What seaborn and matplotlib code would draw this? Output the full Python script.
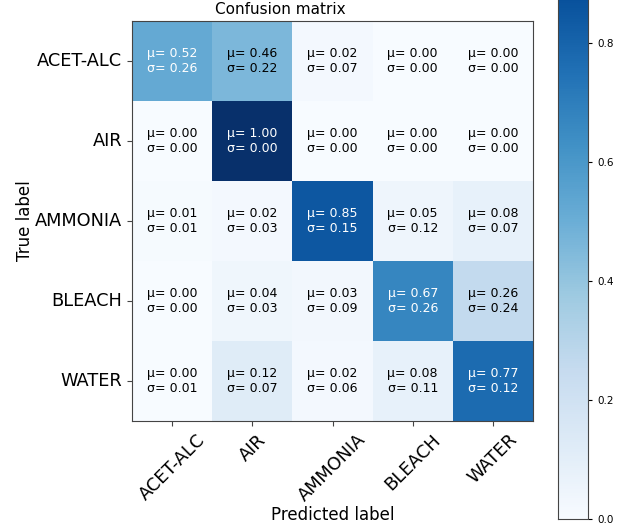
import matplotlib
matplotlib.use("Agg")
import matplotlib.pyplot as plt
import seaborn as sns
import numpy as np

classes = ["ACET-ALC", "AIR", "AMMONIA", "BLEACH", "WATER"]

# mean and std of the normalised confusion matrix (rows = true label)
cm_mean = [
    [0.52, 0.46, 0.02, 0.00, 0.00],
    [0.00, 1.00, 0.00, 0.00, 0.00],
    [0.01, 0.02, 0.85, 0.05, 0.08],
    [0.00, 0.04, 0.03, 0.67, 0.26],
    [0.00, 0.12, 0.02, 0.08, 0.77],
]
cm_std = [
    [0.26, 0.22, 0.07, 0.00, 0.00],
    [0.00, 0.00, 0.00, 0.00, 0.00],
    [0.01, 0.03, 0.15, 0.12, 0.07],
    [0.00, 0.03, 0.09, 0.26, 0.24],
    [0.01, 0.07, 0.06, 0.11, 0.12],
]
cbar_ticks = [0.0, 0.2, 0.4, 0.6, 0.8]

mean = np.array(cm_mean)
std = np.array(cm_std)

fig = plt.figure(figsize=(6.18, 5.25), dpi=100)
ax = fig.add_axes([132 / 618, 104 / 525, 401 / 618, 400 / 525])
cax = fig.add_axes([558 / 618, 6 / 525, 30 / 618, 595 / 525])

sns.heatmap(mean, ax=ax, cbar_ax=cax, cmap="Blues", vmin=0, vmax=1,
            xticklabels=classes, yticklabels=classes)

# annotations: white text on dark cells
thresh = mean.max() / 2.0
for i in range(mean.shape[0]):
    for j in range(mean.shape[1]):
        ax.text(j + 0.5, i + 0.5, f"\u03bc= {mean[i, j]:.2f}\n\u03c3= {std[i, j]:.2f}",
                ha="center", va="center", fontsize=9, linespacing=1.2,
                color="white" if mean[i, j] > thresh else "black")

for sp in ax.spines.values():
    sp.set_visible(True)
    sp.set_linewidth(0.8)
    sp.set_color("#444444")

ax.tick_params(axis="both", labelsize=12.8, length=3.5, width=0.8, color="#444444")
plt.setp(ax.get_xticklabels(), rotation=45, ha="center")
plt.setp(ax.get_yticklabels(), rotation=0)
ax.set_xlabel("Predicted label", fontsize=12, labelpad=1)
ax.set_ylabel("True label", fontsize=12, labelpad=1)
fig.text(280 / 618, 1 - 10 / 525, "Confusion matrix", ha="center", va="center", fontsize=11)

cb = ax.collections[0].colorbar
cb.outline.set_linewidth(0.8)
cb.outline.set_edgecolor("#444444")
cb.set_ticks(cbar_ticks)
cb.ax.tick_params(labelsize=7.5, length=3, width=0.8)

fig.savefig("out.png", dpi=100)
